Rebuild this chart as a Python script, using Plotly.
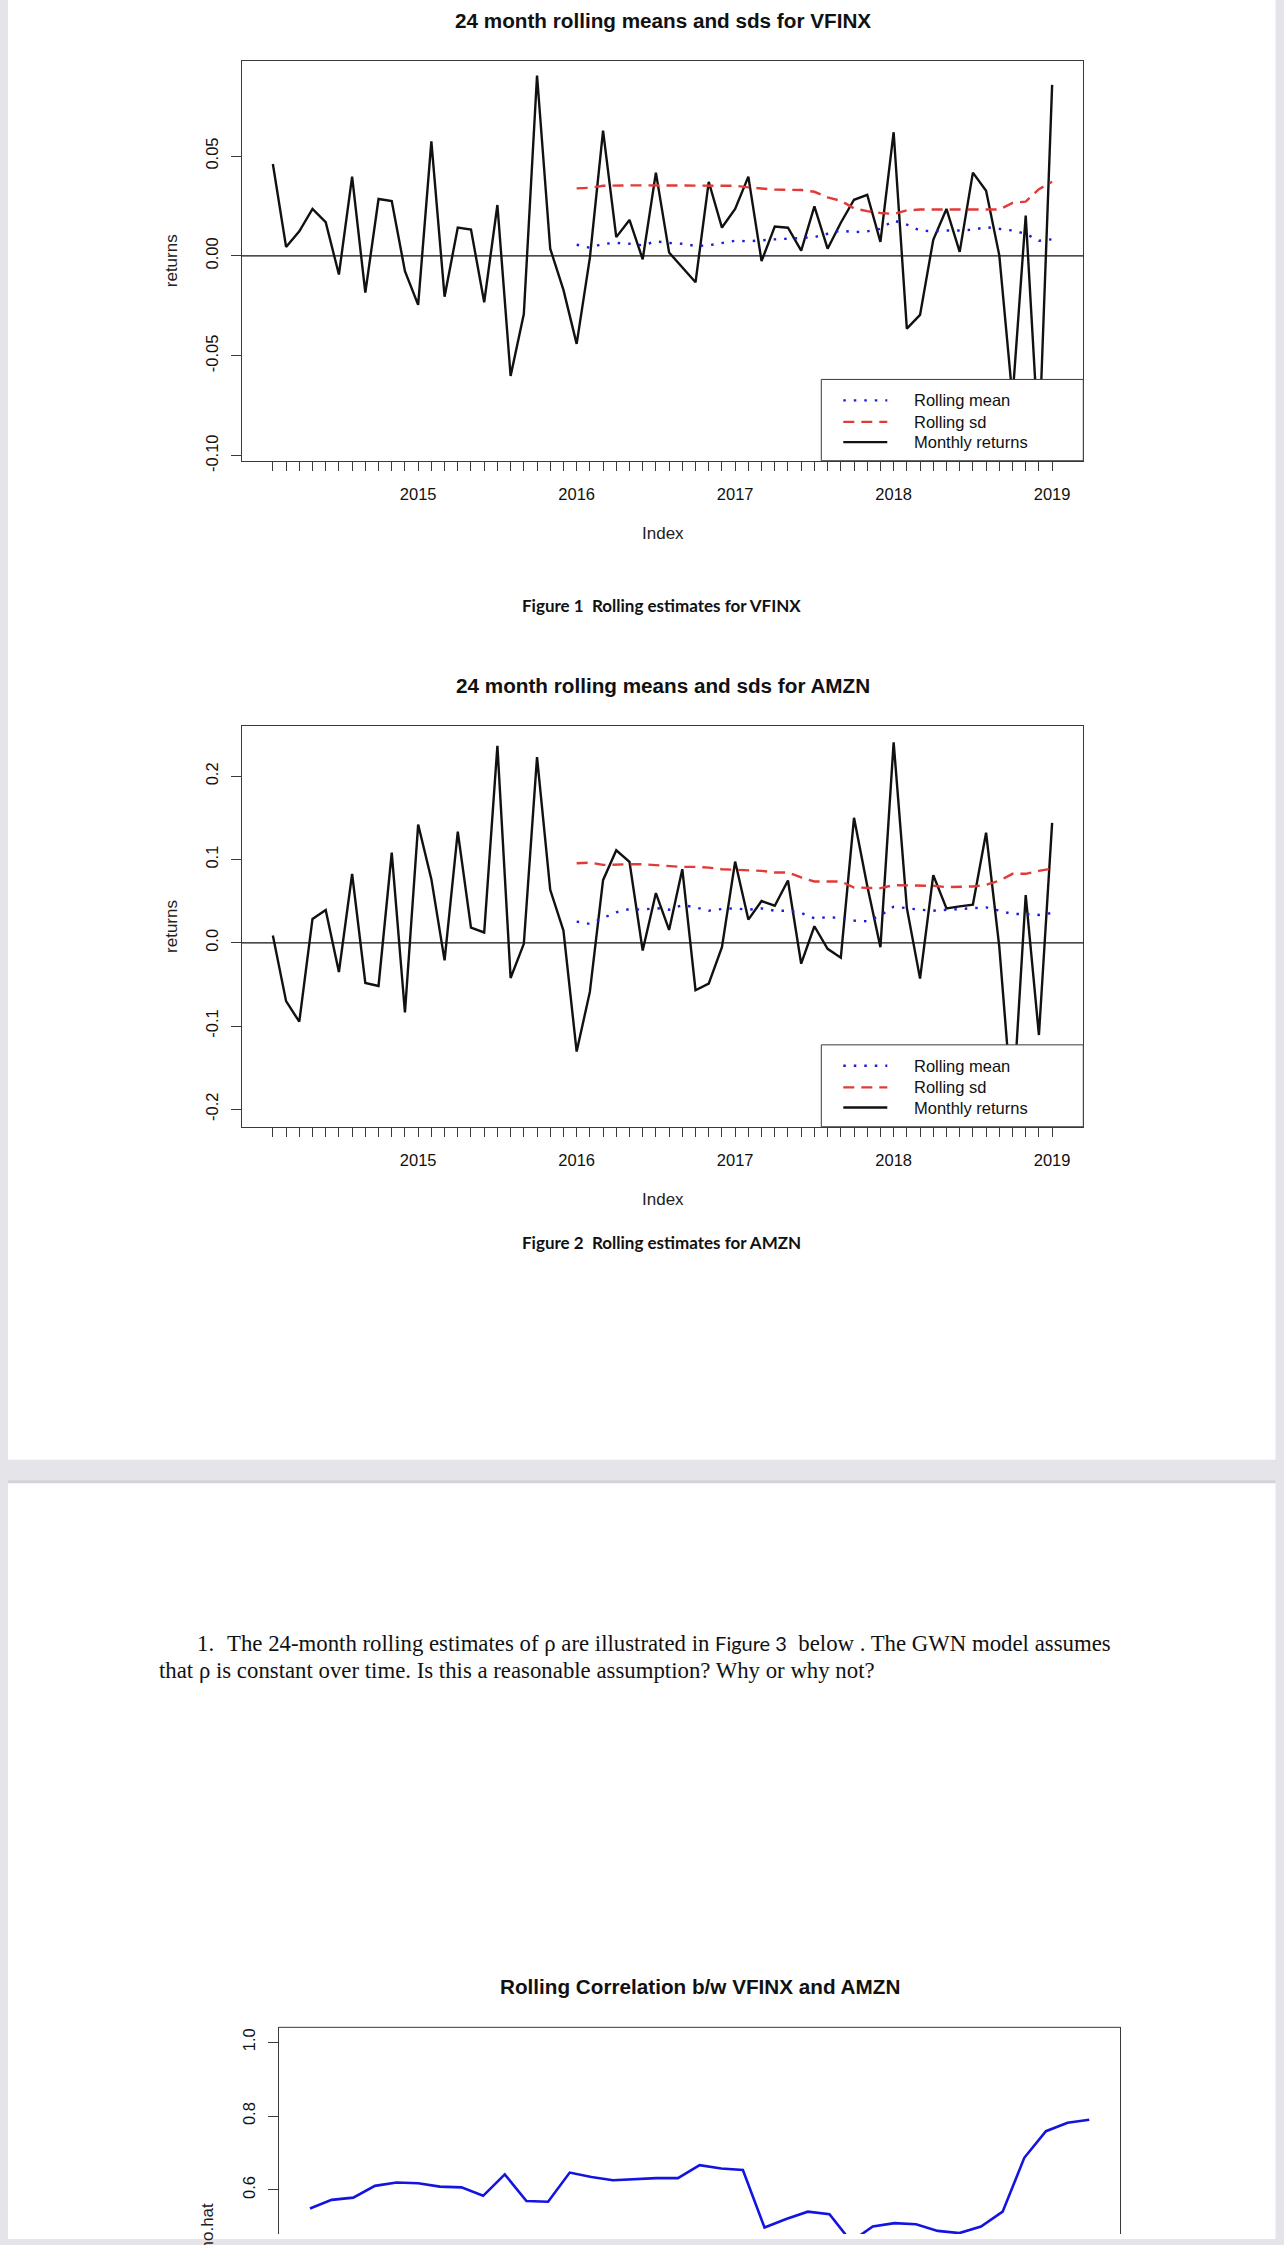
import pandas as pd
import plotly.graph_objects as go

W, H = 1284, 2245

# ---------------- data ----------------
months = pd.period_range("2014-02", "2019-01", freq="M")
year_labels = ["2015", "2016", "2017", "2018", "2019"]

vfinx_ret = [0.046, 0.0045, 0.0123, 0.0235, 0.0169, -0.0093, 0.0397, -0.0184, 0.0285, 0.0275,
             -0.0076, -0.0245, 0.0573, -0.0204, 0.0142, 0.0132, -0.0232, 0.0255, -0.0601, -0.0291,
             0.0903, 0.0036, -0.017, -0.0440, -0.001, 0.0627, 0.0094, 0.018, -0.0017, 0.0417,
             0.0017, -0.0055, -0.0132, 0.0371, 0.0142, 0.0235, 0.0397, -0.0026, 0.0147, 0.0141,
             0.0026, 0.0248, 0.0036, 0.0166, 0.0281, 0.0306, 0.007, 0.0619, -0.0364, -0.0295,
             0.0081, 0.0235, 0.002, 0.0417, 0.0326, 0.0003, -0.071, 0.0202, -0.095, 0.0856]
vfinx_mean = [0.0056, 0.0041, 0.0061, 0.0065, 0.0061, 0.0053, 0.0073, 0.0065, 0.0061, 0.0050,
              0.0053, 0.0066, 0.0076, 0.0073, 0.0079, 0.0083, 0.0086, 0.0091, 0.0094, 0.0111,
              0.0127, 0.0119, 0.0123, 0.0136, 0.0177, 0.0157, 0.0127, 0.0123, 0.0127, 0.0127,
              0.0131, 0.0144, 0.0136, 0.0127, 0.0111, 0.0076, 0.0083]
vfinx_sd = [0.0338, 0.0341, 0.0351, 0.0353, 0.0353, 0.0353, 0.0353, 0.0353, 0.0352, 0.0352,
            0.0351, 0.0351, 0.0351, 0.0343, 0.0336, 0.0332, 0.0331, 0.0330, 0.0321, 0.0293,
            0.0276, 0.0238, 0.0224, 0.0215, 0.0210, 0.0228, 0.0232, 0.0232, 0.0232, 0.0232,
            0.0232, 0.0232, 0.0232, 0.0265, 0.0272, 0.0334, 0.0371]

amzn_ret = [0.0088, -0.0701, -0.0948, 0.0287, 0.0394, -0.0351, 0.0829, -0.0482, -0.0518, 0.1084,
            -0.0837, 0.1422, 0.0765, -0.0211, 0.1335, 0.0183, 0.0124, 0.2367, -0.0422, -0.0012,
            0.2231, 0.0637, 0.0147, -0.1307, -0.059, 0.0753, 0.1112, 0.0972, -0.0092, 0.0598,
            0.0155, 0.0884, -0.057, -0.049, -0.0052, 0.0976, 0.0279, 0.0502, 0.0446, 0.0749,
            -0.0251, 0.0199, -0.0072, -0.0179, 0.1502, 0.0685, -0.0052, 0.241, 0.042, -0.043,
            0.0813, 0.0414, 0.0438, 0.0458, 0.1323, -0.005, -0.203, 0.0574, -0.1108, 0.1442]
amzn_mean = [0.0255, 0.0227, 0.0299, 0.0367, 0.0406, 0.0398, 0.0418, 0.0398, 0.0454, 0.0426,
             0.0386, 0.0406, 0.0414, 0.0398, 0.0414, 0.0386, 0.0386, 0.0359, 0.0295, 0.0307,
             0.0299, 0.0267, 0.0259, 0.0327, 0.0434, 0.0414, 0.0398, 0.0386, 0.0398, 0.0406,
             0.0414, 0.0426, 0.0386, 0.0347, 0.0347, 0.0335, 0.0359]
amzn_sd = [0.0956, 0.0964, 0.0936, 0.0944, 0.0944, 0.0944, 0.0932, 0.0924, 0.0912, 0.0912,
           0.0904, 0.0884, 0.0876, 0.0876, 0.0865, 0.0845, 0.0845, 0.0785, 0.0737, 0.0737,
           0.0737, 0.0665, 0.0657, 0.0657, 0.0693, 0.0693, 0.0693, 0.0685, 0.0669, 0.0669,
           0.0677, 0.0697, 0.0745, 0.0829, 0.0829, 0.0865, 0.0892]

rho_hat = [0.5495, 0.573, 0.579, 0.611, 0.620, 0.618, 0.609, 0.607, 0.584, 0.642,
           0.570, 0.568, 0.647, 0.635, 0.626, 0.629, 0.632, 0.632, 0.667, 0.658,
           0.654, 0.498, 0.521, 0.541, 0.534, 0.46, 0.501, 0.510, 0.507, 0.489,
           0.483, 0.501, 0.541, 0.687, 0.759, 0.782, 0.790]

vfinx_yticks = [-0.10, -0.05, 0.00, 0.05]
vfinx_ylabels = ["-0.10", "-0.05", "0.00", "0.05"]
amzn_yticks = [-0.2, -0.1, 0.0, 0.1, 0.2]
amzn_ylabels = ["-0.2", "-0.1", "0.0", "0.1", "0.2"]
rho_yticks = [0.4, 0.6, 0.8, 1.0]
rho_ylabels = ["0.4", "0.6", "0.8", "1.0"]

# ---------------- helpers ----------------
x_months = [p.year + (p.month - 1) / 12 for p in months]
x_roll = x_months[23:]
x_ticktext = [str(p.year) if p.month == 1 else "" for p in months]


def fx(px):
    return px / W


def fy(py):
    return 1 - py / H


SANS = "Liberation Sans, Arial, sans-serif"
SERIF = "Liberation Serif, Times New Roman, serif"
CAL = "Lato, Carlito, sans-serif"
BLACK = "#111111"
BLUE = "#1c1cdc"
RED = "#e23a36"
AX = "#3a3a3a"

fig = go.Figure()

# chart 1
fig.add_trace(go.Scatter(x=x_months, y=vfinx_ret, mode="lines", line=dict(color=BLACK, width=2.4),
                         xaxis="x", yaxis="y", showlegend=False))
fig.add_trace(go.Scatter(x=x_roll, y=vfinx_mean, mode="lines",
                         line=dict(color=BLUE, width=2.4, dash="2.5px,8px"),
                         xaxis="x", yaxis="y", showlegend=False))
fig.add_trace(go.Scatter(x=x_roll, y=vfinx_sd, mode="lines",
                         line=dict(color=RED, width=2.4, dash="11px,7px"),
                         xaxis="x", yaxis="y", showlegend=False))
# chart 2
fig.add_trace(go.Scatter(x=x_months, y=amzn_ret, mode="lines", line=dict(color=BLACK, width=2.4),
                         xaxis="x2", yaxis="y2", showlegend=False))
fig.add_trace(go.Scatter(x=x_roll, y=amzn_mean, mode="lines",
                         line=dict(color=BLUE, width=2.4, dash="2.5px,8px"),
                         xaxis="x2", yaxis="y2", showlegend=False))
fig.add_trace(go.Scatter(x=x_roll, y=amzn_sd, mode="lines",
                         line=dict(color=RED, width=2.4, dash="11px,7px"),
                         xaxis="x2", yaxis="y2", showlegend=False))
# chart 3
fig.add_trace(go.Scatter(x=x_roll, y=rho_hat, mode="lines", line=dict(color="#1414e0", width=2.6),
                         xaxis="x3", yaxis="y3", showlegend=False))

span = (x_months[-1] - x_months[0]) * 0.04
xr = [x_months[0] - span, x_months[-1] + span]
span3 = (x_roll[-1] - x_roll[0]) * 0.04
xr3 = [x_roll[0] - span3, x_roll[-1] + span3]

tickfont = dict(family=SANS, size=16.5, color=BLACK)


def xaxis_cfg(domain, anchor, rng):
    return dict(domain=domain, anchor=anchor, range=rng, tickmode="array", tickvals=x_months,
                ticktext=x_ticktext, ticks="outside", ticklen=9, tickwidth=1, tickcolor=AX,
                showline=True, mirror=True, linecolor=AX, linewidth=1, showgrid=False,
                zeroline=False, tickfont=tickfont, ticklabelstandoff=9, tickangle=0)


def yaxis_cfg(domain, anchor, rng, tv, tt):
    return dict(domain=domain, anchor=anchor, range=rng, tickmode="array", tickvals=tv,
                ticktext=tt, ticks="outside", ticklen=10, tickwidth=1, tickcolor=AX,
                showline=True, mirror=True, linecolor=AX, linewidth=1, showgrid=False,
                zeroline=False, tickfont=tickfont, tickangle=-90, ticklabelstandoff=6)


fig.update_layout(
    width=W, height=H, margin=dict(l=0, r=0, t=0, b=0),
    paper_bgcolor="#e4e4e9", plot_bgcolor="white",
    xaxis=xaxis_cfg([fx(241.7), fx(1083.3)], "y", xr),
    yaxis=yaxis_cfg([fy(463), fy(61)], "x", [-0.1025, 0.0977], vfinx_yticks, vfinx_ylabels),
    xaxis2=xaxis_cfg([fx(241.7), fx(1083.3)], "y2", xr),
    yaxis2=yaxis_cfg([fy(1132.3), fy(730)], "x2", [-0.221, 0.260], amzn_yticks, amzn_ylabels),
    xaxis3=dict(domain=[fx(278.8), fx(1120.4)], anchor="y3", range=xr3, visible=False),
    yaxis3=yaxis_cfg([0, fy(2037.3)], "x3", [0.4806, 1.0404], rho_yticks, rho_ylabels),
)

shapes = []
# pages
shapes.append(dict(type="rect", xref="paper", yref="paper", x0=fx(8), x1=fx(1275.5), y0=fy(1467), y1=fy(-5),
                   fillcolor="white", line=dict(width=0), layer="below"))
shapes.append(dict(type="rect", xref="paper", yref="paper", x0=fx(8), x1=fx(1275.5), y0=fy(2250), y1=fy(1488),
                   fillcolor="white", line=dict(width=0), layer="below"))
shapes.append(dict(type="line", xref="paper", yref="paper", x0=fx(8), x1=fx(1275.5), y0=fy(1489), y1=fy(1489),
                   line=dict(color="#d2d2d9", width=3), layer="below"))

# zero lines
for xa, ya in (("x", "y"), ("x2", "y2")):
    shapes.append(dict(type="line", xref=xa + " domain", yref=ya, x0=0, x1=1, y0=0, y1=0,
                       line=dict(color=BLACK, width=1.2), layer="above"))
# chart 3 top border
shapes.append(dict(type="line", xref="paper", yref="paper", x0=fx(278.8), x1=fx(1120.4),
                   y0=fy(2037.3), y1=fy(2037.3), line=dict(color=AX, width=1), layer="above"))

annotations = []


def legend(top, bottom):
    shapes.append(dict(type="rect", xref="paper", yref="paper", x0=fx(821.3), x1=fx(1083.3),
                       y0=fy(bottom), y1=fy(top), fillcolor="white", line=dict(color=AX, width=1),
                       layer="above"))
    rows = [top + 21.0, top + 42.7, top + 63.0]
    styles = [(BLUE, "2.5px,8px", "Rolling mean"), (RED, "11px,7px", "Rolling sd"),
              (BLACK, "solid", "Monthly returns")]
    for ry, (col, dash, label) in zip(rows, styles):
        shapes.append(dict(type="line", xref="paper", yref="paper", x0=fx(843.3), x1=fx(887.3),
                           y0=fy(ry), y1=fy(ry), line=dict(color=col, width=2.4, dash=dash),
                           layer="above"))
        annotations.append(dict(xref="paper", yref="paper", x=fx(911.5), y=fy(ry), text=label,
                                showarrow=False, xanchor="left", yanchor="middle",
                                font=dict(family=SANS, size=16.5, color=BLACK)))


legend(381.3, 463)
legend(1050, 1132.3)


def ann(x, y, text, font, angle=0, xanchor="center", yanchor="middle"):
    annotations.append(dict(xref="paper", yref="paper", x=fx(x), y=fy(y), text=text,
                            showarrow=False, xanchor=xanchor, yanchor=yanchor, textangle=angle,
                            font=font))


title_font = dict(family=SANS, size=20.7, color=BLACK)
lab_font = dict(family=SANS, size=17, color="#222222")
cap_font = dict(family=CAL, size=17, color=BLACK)

ann(662.5, 21, "<b>24 month rolling means and sds for VFINX</b>", title_font)
ann(171.5, 262, "returns", lab_font, angle=-90)
ann(662.5, 536, "Index", lab_font)
ann(661, 608, "<b>Figure 1  Rolling estimates for VFINX</b>", cap_font)

ann(662.5, 689, "<b>24 month rolling means and sds for AMZN</b>", title_font)
ann(171.5, 931, "returns", lab_font, angle=-90)
ann(662.5, 1205, "Index", lab_font)
ann(661, 1249, "<b>Figure 2  Rolling estimates for AMZN</b>", cap_font)

serif = dict(family=SERIF, size=22.8, color=BLACK)
ann(195, 1652, "1.", serif, xanchor="left")
ann(225, 1652, "The 24-month rolling estimates of ρ are illustrated in "
               "<span style='font-family:Lato;font-size:20px'>Figure 3</span>  below . The GWN model assumes",
    serif, xanchor="left")
ann(157, 1679, "that ρ is constant over time. Is this a reasonable assumption? Why or why not?",
    serif, xanchor="left")

ann(699.6, 1996, "<b>Rolling Correlation b/w VFINX and AMZN</b>", title_font)
ann(207.5, 2212, "rho.hat", lab_font, angle=-90, yanchor="top")

fig.update_layout(shapes=shapes, annotations=annotations)

# fit the figure exactly to the browser viewport (paper-relative layout scales with it)
post = """
var s = 'margin:0;padding:0;overflow:hidden;';
document.documentElement.style.cssText = s;
document.body.style.cssText = s;
var gd = document.getElementById('{plot_id}');
var vh = window.innerHeight || document.documentElement.clientHeight || 2245;
Plotly.relayout(gd, {width: 1284, height: vh});
"""
fig.write_html("out.html", config={"displayModeBar": False}, post_script=post)
